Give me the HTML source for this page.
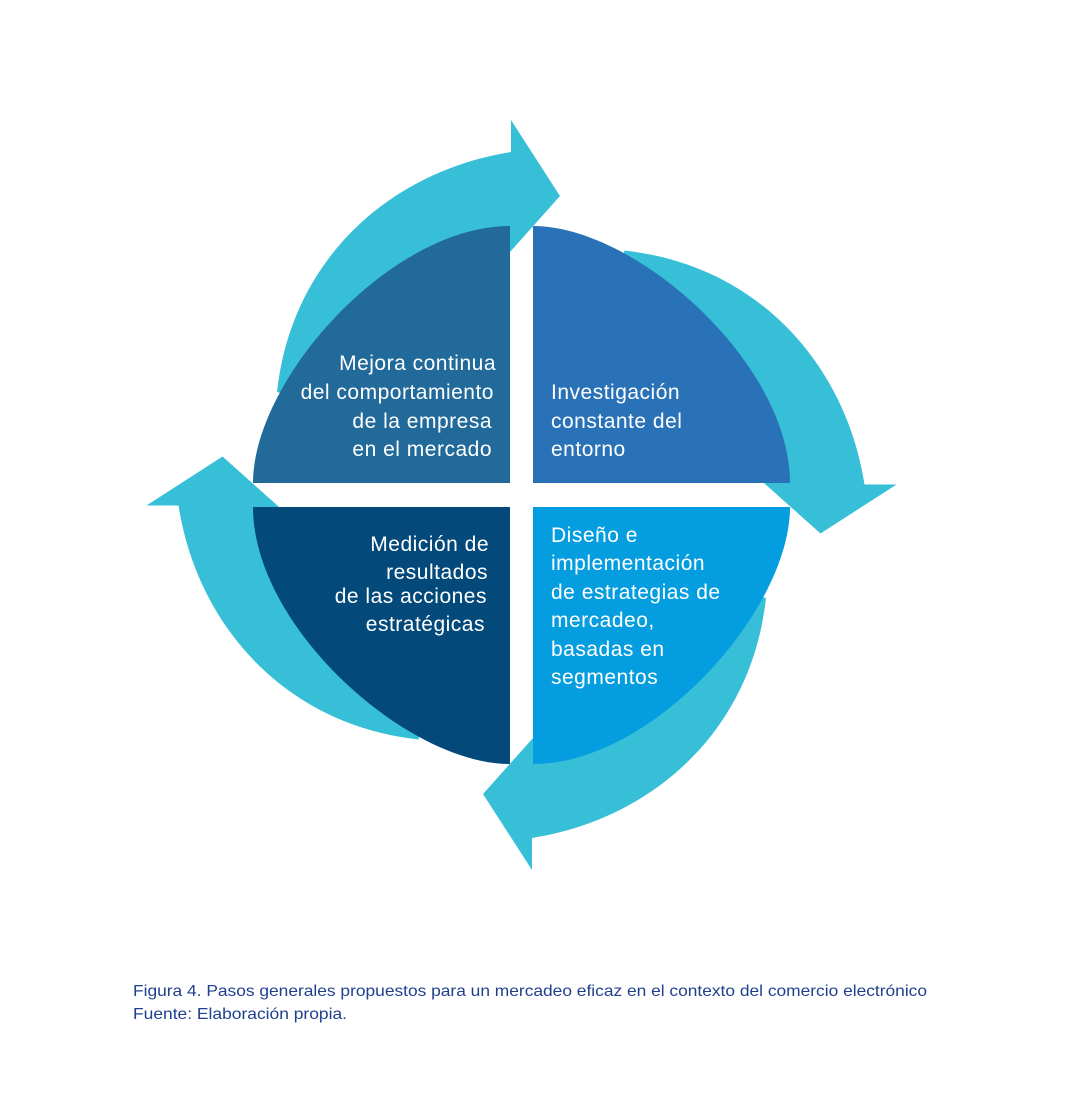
<!DOCTYPE html>
<html><head><meta charset="utf-8"><style>
body{margin:0;background:#fff;width:1068px;height:1104px;overflow:hidden;font-family:"Liberation Sans",sans-serif}
svg{position:absolute;left:0;top:0}
</style></head><body>
<svg width="1068" height="1104" viewBox="0 0 1068 1104">
<defs>
<path id="arr" d="M277,392 C292,255 395,170 511,152 L511,120 L560,196 L510,252 C420,270 330,330 305,400 Z" fill="#38bfd8"/>
</defs>
<use href="#arr"/>
<use href="#arr" transform="rotate(90 521.5 495)"/>
<use href="#arr" transform="rotate(180 521.5 495)"/>
<use href="#arr" transform="rotate(270 521.5 495)"/>
<path d="M510,226 L510,483 L253,483 C253,380 390,226 510,226 Z" fill="#216a9a"/>
<path d="M533,226 C636,226 790,363 790,483 L533,483 Z" fill="#2a72b8"/>
<path d="M790,507 C790,610 653,764 533,764 L533,507 Z" fill="#049ddf"/>
<path d="M510,764 C407,764 253,627 253,507 L510,507 Z" fill="#03497a"/>
<g fill="#fff" font-family="Liberation Sans, sans-serif" font-size="21" letter-spacing="0.5">
<g text-anchor="end">
<text x="496" y="370">Mejora continua</text>
<text x="494" y="399">del comportamiento</text>
<text x="492" y="428">de la empresa</text>
<text x="492" y="456">en el mercado</text>
<text x="489" y="551">Medición de</text>
<text x="488" y="579">resultados</text>
<text x="487" y="603">de las acciones</text>
<text x="485" y="631">estratégicas</text>
</g>
<text x="551" y="399">Investigación</text>
<text x="551" y="428">constante del</text>
<text x="551" y="456">entorno</text>
<text x="551" y="542">Diseño e</text>
<text x="551" y="570">implementación</text>
<text x="551" y="599">de estrategias de</text>
<text x="551" y="627">mercadeo,</text>
<text x="551" y="656">basadas en</text>
<text x="551" y="684">segmentos</text>
</g>
<g fill="#1f3f8f" font-size="16" font-family="Liberation Sans, sans-serif">
<text x="133" y="996" textLength="794" lengthAdjust="spacingAndGlyphs">Figura 4. Pasos generales propuestos para un mercadeo eficaz en el contexto del comercio electrónico</text>
<text x="133" y="1019" textLength="214" lengthAdjust="spacingAndGlyphs">Fuente: Elaboración propia.</text>
</g>
</svg>
</body></html>
